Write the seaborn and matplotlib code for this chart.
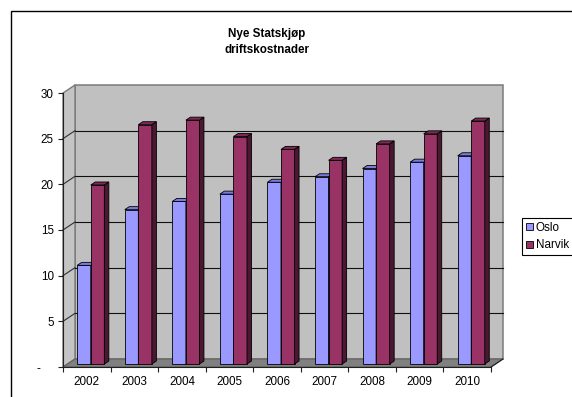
import numpy as np
import pandas as pd
import matplotlib
matplotlib.use("Agg")
import matplotlib.pyplot as plt
import seaborn as sns
from matplotlib.patches import Polygon, Rectangle, Patch
from matplotlib.lines import Line2D
from matplotlib.transforms import offset_copy, IdentityTransform
from matplotlib.colors import to_rgb

# ---- data ----
years = ["2002", "2003", "2004", "2005", "2006", "2007", "2008", "2009", "2010"]
oslo = [10.8, 16.9, 17.8, 18.6, 19.9, 20.5, 21.4, 22.1, 22.8]
narvik = [19.6, 26.2, 26.7, 24.9, 23.5, 22.3, 24.1, 25.2, 26.6]
series = ["Oslo", "Narvik"]
yticks = [0, 5, 10, 15, 20, 25, 30]
ytick_labels = ["-    ", "5", "10", "15", "20", "25", "30"]
title = "Nye Statskjøp\ndriftskostnader"

front_colors = {"Oslo": "#9999FF", "Narvik": "#993366"}
top_colors = {"Oslo": "#7A7AE0", "Narvik": "#7D2A55"}
side_colors = {"Oslo": "#5C5CB0", "Narvik": "#4A1830"}

plt.rcParams["font.family"] = ["Liberation Sans", "DejaVu Sans"]
FS = 8.4

W, H = 572, 397
fig = plt.figure(figsize=(W / 100, H / 100), dpi=100)
fig.patch.set_facecolor("white")
ax = fig.add_axes([63 / W, 30 / H, 428 / W, 274 / H])
ax.set_facecolor("none")

df = pd.DataFrame({
    "year": years * 2,
    "value": oslo + narvik,
    "city": ["Oslo"] * len(years) + ["Narvik"] * len(years),
})
sns.barplot(data=df, x="year", y="value", hue="city", hue_order=series,
            palette=front_colors, width=0.57, gap=0, saturation=1,
            errorbar=None, legend=False, edgecolor="black", linewidth=0.6,
            ax=ax)
bars = list(ax.patches)

ax.set_xlim(-0.5, len(years) - 0.5)
ax.set_ylim(0, 30)

DX, DY = 12, 8      # wall depth in pixels
BX, BY = 4, 3       # bar front offset
BDX, BDY = 4.5, 3   # bar depth

def disp(x, y):
    return np.array(ax.transData.transform((x, y)))

ident = IdentityTransform()
x_lo, x_hi = -0.5, len(years) - 0.5
off_wall = offset_copy(ax.transData, fig=fig, x=DX, y=DY, units="dots")
d = np.array([DX, DY])

# back wall
ax.add_patch(Rectangle((x_lo, 0), x_hi - x_lo, 30, transform=off_wall,
                       fc="#C0C0C0", ec="#7A7A7A", lw=1.1, zorder=0.5, clip_on=False))
# left wall
p0, p1 = disp(x_lo, 0), disp(x_lo, 30)
ax.add_patch(Polygon([p0, p1, p1 + d, p0 + d], closed=True, transform=ident,
                     fc="#C4C4C4", ec="#7A7A7A", lw=1.0, zorder=0.6, clip_on=False))
# floor
q0, q1 = disp(x_lo, 0), disp(x_hi, 0)
ax.add_patch(Polygon([q0, q1, q1 + d, q0 + d], closed=True, transform=ident,
                     fc="#808080", ec="#606060", lw=0.8, zorder=0.6, clip_on=False))
# gridlines (the top of the wall is its own edge)
for v in yticks[1:-1]:
    ax.plot([x_lo, x_hi], [v, v], transform=off_wall, color="#101010",
            lw=0.8, zorder=0.8, clip_on=False)
    a = disp(x_lo, v)
    ax.add_line(Line2D([a[0], a[0] + DX], [a[1], a[1] + DY], transform=ident,
                       color="#303030", lw=0.8, zorder=0.8, clip_on=False))
# bottom-right diagonal
r = disp(x_hi, 0)
ax.add_line(Line2D([r[0], r[0] + DX], [r[1], r[1] + DY], transform=ident,
                   color="#202020", lw=0.8, zorder=0.9, clip_on=False))

# 3D bars
off_bar = offset_copy(ax.transData, fig=fig, x=BX, y=BY, units="dots")
bo = np.array([BX, BY])
bd = np.array([BDX, BDY])
for p in bars:
    fc = to_rgb(p.get_facecolor()[:3])
    name = "Oslo" if np.allclose(fc, to_rgb(front_colors["Oslo"]), atol=0.02) else "Narvik"
    z = 3 if name == "Oslo" else 3.2
    x0, w, h = p.get_x(), p.get_width(), p.get_height()
    p.set_transform(off_bar)
    p.set_clip_on(False)
    p.set_zorder(z)
    a = disp(x0 + w, 0) + bo
    b = disp(x0 + w, h) + bo
    c = disp(x0, h) + bo
    ax.add_patch(Polygon([a, b, b + bd, a + bd], closed=True, transform=ident,
                         fc=side_colors[name], ec="black", lw=0.6, zorder=z, clip_on=False))
    ax.add_patch(Polygon([c, b, b + bd, c + bd], closed=True, transform=ident,
                         fc=top_colors[name], ec="black", lw=0.6, zorder=z, clip_on=False))

# axes styling
for s in ["top", "right"]:
    ax.spines[s].set_visible(False)
for s in ["left", "bottom"]:
    ax.spines[s].set_color("#202020")
    ax.spines[s].set_linewidth(0.8)
ax.set_yticks(yticks, ytick_labels)
ax.set_xticks(range(len(years)), years)
ax.set_xticks(np.arange(x_lo, x_hi + 0.01, 1), minor=True)
ax.tick_params(axis="y", length=3.6, width=0.8, pad=3, labelsize=FS, color="#202020")
ax.tick_params(axis="x", which="major", length=0, pad=6.5, labelsize=FS)
ax.tick_params(axis="x", which="minor", length=3.6, width=0.8, color="#202020")
ax.set_xlabel("")
ax.set_ylabel("")

# title
fig.text(267 / W, 1 - 42 / H, title, ha="center", va="center", multialignment="center",
         fontsize=FS, fontweight="bold", linespacing=1.4)

# outer frame
fig.add_artist(Rectangle((11 / W, -0.1), 1.5, 1 - 11 / H + 0.1, transform=fig.transFigure,
                         fill=False, ec="black", lw=1.0))

# legend
handles = [Patch(fc=front_colors[s], ec="black", lw=0.6) for s in series]
leg = fig.legend(handles, series, loc="upper left", bbox_to_anchor=(522 / W, 1 - 218 / H),
                 frameon=True, fancybox=False, edgecolor="black", framealpha=1,
                 fontsize=FS, handlelength=0.55, handleheight=0.55, handletextpad=0.3,
                 borderpad=0.35, labelspacing=0.45, borderaxespad=0)
leg.get_frame().set_linewidth(0.8)

fig.savefig("out.png", dpi=100)
